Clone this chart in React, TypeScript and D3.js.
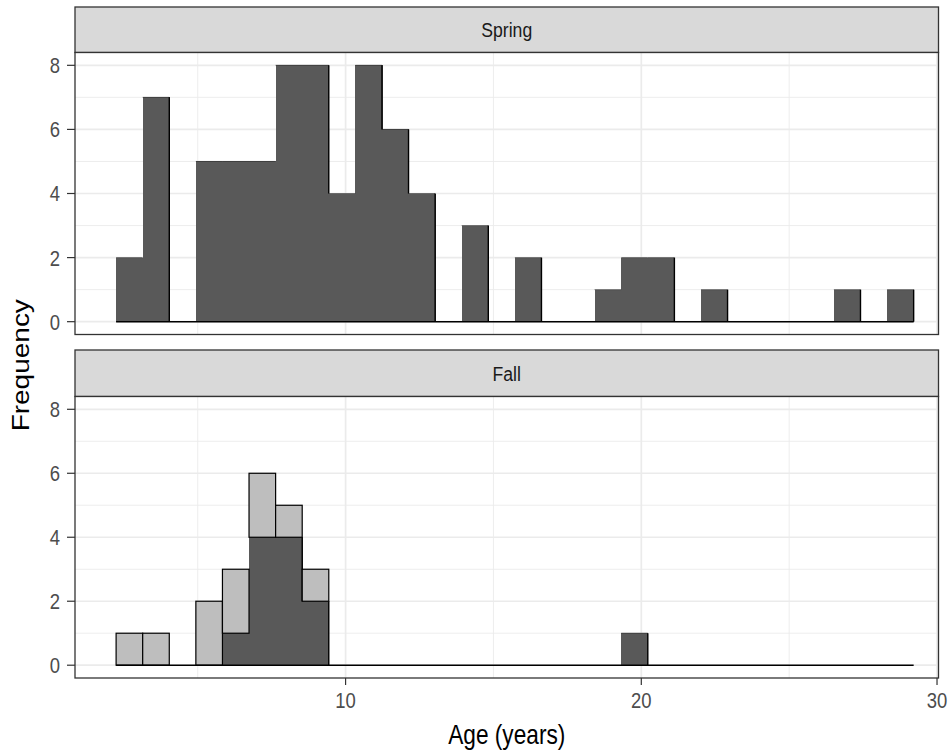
import React from "react";
import * as d3 from "d3";

// Histogram breaks: 30 equal-width bins
const binStart = 2.24;
const binWidth = 0.899;
const binCount = 30;

// Spring: counts per bin
const springCounts = [2, 7, 0, 5, 5, 5, 8, 8, 4, 8, 6, 4, 0, 3, 0, 2, 0, 0, 1, 2, 2, 0, 1, 0, 0, 0, 0, 1, 0, 1];
// Fall: dark group (bottom of stack) and grey group (top of stack)
const fallDarkCounts = [0, 0, 0, 0, 1, 4, 4, 2, 0, 0, 0, 0, 0, 0, 0, 0, 0, 0, 0, 1, 0, 0, 0, 0, 0, 0, 0, 0, 0, 0];
const fallGreyCounts = [1, 1, 0, 2, 2, 2, 1, 1, 0, 0, 0, 0, 0, 0, 0, 0, 0, 0, 0, 0, 0, 0, 0, 0, 0, 0, 0, 0, 0, 0];

const xMajorTicks = [10, 20, 30];
const xMinorTicks = [5, 15, 25];
const yMajorTicks = [0, 2, 4, 6, 8];
const yMinorTicks = [1, 3, 5, 7];

const W = 950;
const H = 755;
const FONT = "'Liberation Sans', Arial, sans-serif";
const DARK = "#595959";
const GREY = "#BEBEBE";
// text is drawn horizontally narrowed
const SQUEEZE = 0.84;

const left = 75;
const right = 938.5;

const x = d3.scaleLinear().domain([0.85, 30.05]).range([left, right]);

type PanelDef = {
  label: string;
  stripTop: number;
  top: number;
  bottom: number;
  dark: number[];
  grey: number[];
};

const panels: PanelDef[] = [
  { label: "Spring", stripTop: 7, top: 52.5, bottom: 334.5, dark: springCounts, grey: springCounts.map(() => 0) },
  { label: "Fall", stripTop: 350, top: 396.5, bottom: 678, dark: fallDarkCounts, grey: fallGreyCounts },
];

const edges = d3.range(binCount + 1).map((i) => binStart + i * binWidth);

function Label({
  tx,
  ty,
  size,
  anchor,
  fill,
  rotate = 0,
  dy,
  children,
}: {
  tx: number;
  ty: number;
  size: number;
  anchor: "start" | "middle" | "end";
  fill: string;
  rotate?: number;
  dy?: string;
  children: React.ReactNode;
}) {
  return (
    <text
      transform={`translate(${tx},${ty}) scale(${SQUEEZE},1) rotate(${rotate})`}
      dy={dy}
      textAnchor={anchor}
      fontFamily={FONT}
      fontSize={size}
      fill={fill}
    >
      {children}
    </text>
  );
}

function Panel({ p, showX }: { p: PanelDef; showX: boolean }) {
  const y = d3.scaleLinear().domain([-0.4, 8.4]).range([p.bottom, p.top]);
  const x0 = edges[0];
  const xN = edges[binCount];
  return (
    <g>
      {/* strip */}
      <rect x={left} y={p.stripTop} width={right - left} height={p.top - p.stripTop} fill="#D9D9D9" stroke="#333333" strokeWidth={1.3} />
      <Label tx={(left + right) / 2} ty={(p.stripTop + p.top) / 2} dy="0.36em" size={21} anchor="middle" fill="#1A1A1A">
        {p.label}
      </Label>
      {/* panel background and grid */}
      <rect x={left} y={p.top} width={right - left} height={p.bottom - p.top} fill="#FFFFFF" />
      {yMinorTicks.map((t) => (
        <line key={"ym" + t} x1={left} x2={right} y1={y(t)} y2={y(t)} stroke="#EBEBEB" strokeWidth={0.9} />
      ))}
      {xMinorTicks.map((t) => (
        <line key={"xm" + t} x1={x(t)} x2={x(t)} y1={p.top} y2={p.bottom} stroke="#EBEBEB" strokeWidth={0.9} />
      ))}
      {yMajorTicks.map((t) => (
        <line key={"yM" + t} x1={left} x2={right} y1={y(t)} y2={y(t)} stroke="#EBEBEB" strokeWidth={1.7} />
      ))}
      {xMajorTicks.map((t) => (
        <line key={"xM" + t} x1={x(t)} x2={x(t)} y1={p.top} y2={p.bottom} stroke="#EBEBEB" strokeWidth={1.7} />
      ))}
      {/* dark bars */}
      {p.dark.map((c, i) =>
        c > 0 ? (
          <rect
            key={"d" + i}
            x={x(edges[i])}
            y={y(c)}
            width={x(edges[i + 1]) - x(edges[i]) + 0.6}
            height={y(0) - y(c)}
            fill={DARK}
            shapeRendering="crispEdges"
          />
        ) : null
      )}
      {/* dark bar tops */}
      {p.dark.map((c, i) =>
        c > 0 && p.grey[i] === 0 ? (
          <line key={"dt" + i} x1={x(edges[i])} x2={x(edges[i + 1])} y1={y(c)} y2={y(c)} stroke="#333333" strokeWidth={0.7} />
        ) : null
      )}
      {/* dark bar right edges where the next bin is lower */}
      {p.dark.map((c, i) => {
        const next = i + 1 < binCount ? p.dark[i + 1] : 0;
        if (c <= next) return null;
        return (
          <line key={"dr" + i} x1={x(edges[i + 1])} x2={x(edges[i + 1])} y1={y(c)} y2={y(next)} stroke="#000000" strokeWidth={1.4} />
        );
      })}
      {/* grey bars stacked on top */}
      {p.grey.map((c, i) =>
        c > 0 ? (
          <rect
            key={"g" + i}
            x={x(edges[i])}
            y={y(p.dark[i] + c)}
            width={x(edges[i + 1]) - x(edges[i])}
            height={y(p.dark[i]) - y(p.dark[i] + c)}
            fill={GREY}
            stroke="#000000"
            strokeWidth={1.2}
          />
        ) : null
      )}
      {/* zero baseline across all bins */}
      <line x1={x(x0)} x2={x(xN)} y1={y(0)} y2={y(0)} stroke="#000000" strokeWidth={1.5} />
      {/* panel border */}
      <rect x={left} y={p.top} width={right - left} height={p.bottom - p.top} fill="none" stroke="#333333" strokeWidth={1.3} />
      {/* y axis */}
      {yMajorTicks.map((t) => (
        <g key={"yt" + t}>
          <line x1={left - 8} x2={left} y1={y(t)} y2={y(t)} stroke="#333333" strokeWidth={1.2} />
          <Label tx={left - 15} ty={y(t)} dy="0.36em" size={22} anchor="end" fill="#4D4D4D">
            {t}
          </Label>
        </g>
      ))}
      {showX &&
        xMajorTicks.map((t) => (
          <g key={"xt" + t}>
            <line x1={x(t)} x2={x(t)} y1={p.bottom} y2={p.bottom + 7} stroke="#333333" strokeWidth={1.2} />
            <Label tx={x(t)} ty={p.bottom + 30} size={22} anchor="middle" fill="#4D4D4D">
              {t}
            </Label>
          </g>
        ))}
    </g>
  );
}

export default function App() {
  return (
    <svg width={W} height={H} style={{ position: "absolute", left: 0, top: 0, background: "#FFFFFF" }}>
      <rect x={0} y={0} width={W} height={H} fill="#FFFFFF" />
      {panels.map((p, i) => (
        <Panel key={p.label} p={p} showX={i === panels.length - 1} />
      ))}
      <Label tx={(left + right) / 2} ty={744} size={27} anchor="middle" fill="#000000">
        Age (years)
      </Label>
      <Label tx={29} ty={(52.5 + 678) / 2} size={28} anchor="middle" fill="#000000" rotate={-90}>
        Frequency
      </Label>
    </svg>
  );
}
